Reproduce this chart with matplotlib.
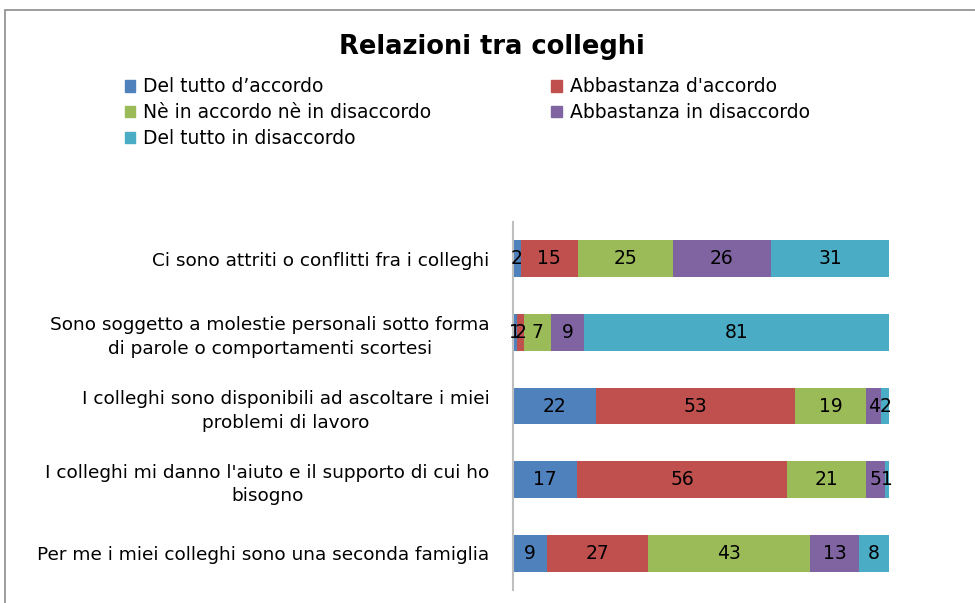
import numpy as np
import matplotlib.pyplot as plt
from matplotlib.patches import Rectangle, Patch

plt.rcParams['font.family'] = ['DejaVu Sans']

# categories, top to bottom as in the chart
categories = [
    "Ci sono attriti o conflitti fra i colleghi",
    "Sono soggetto a molestie personali sotto forma\ndi parole o comportamenti scortesi",
    "I colleghi sono disponibili ad ascoltare i miei\nproblemi di lavoro",
    "I colleghi mi danno l'aiuto e il supporto di cui ho\nbisogno",
    "Per me i miei colleghi sono una seconda famiglia",
]
series_names = [
    "Del tutto d\u2019accordo",
    "Abbastanza d'accordo",
    "N\u00e8 in accordo n\u00e8 in disaccordo",
    "Abbastanza in disaccordo",
    "Del tutto in disaccordo",
]
del_tutto_accordo = [2, 1, 22, 17, 9]
abbastanza_accordo = [15, 2, 53, 56, 27]
ne_ne = [25, 7, 19, 21, 43]
abbastanza_disaccordo = [26, 9, 4, 5, 13]
del_tutto_disaccordo = [31, 81, 2, 1, 8]
colors = ['#4F81BD', '#C0504D', '#9BBB59', '#8064A2', '#4BACC6']

series = np.array([del_tutto_accordo, abbastanza_accordo, ne_ne,
                   abbastanza_disaccordo, del_tutto_disaccordo], dtype=float)
totals = series.sum(axis=0)
pct = series / totals * 100  # 100% stacked

fig = plt.figure(figsize=(9.75, 6.03), dpi=100)
# outer chart border
fig.patches.append(Rectangle((5/975, -0.1), 1.2, 1 - 10/603 + 0.1, transform=fig.transFigure,
                             fill=False, edgecolor='#8C8C8C', linewidth=1.2))

ax = fig.add_axes([513/975, 13/603, 376/975, 368/603])
y = np.arange(len(categories))
left = np.zeros(len(categories))
handles = []
for i in range(len(series)):
    ax.barh(y, pct[i], left=left, height=0.5, color=colors[i])
    for j in range(len(categories)):
        ax.text(left[j] + pct[i][j] / 2, y[j], str(int(series[i][j])),
                ha='center', va='center', fontsize=13.5, color='black')
    left += pct[i]
    handles.append(Patch(color=colors[i]))

ax.set_xlim(0, 100)
ax.set_ylim(len(categories) - 0.5, -0.5)
ax.set_yticks(y)
ax.set_yticklabels(categories, fontsize=13.3, multialignment='center', linespacing=1.4)
ax.tick_params(axis='y', length=0, pad=17)
ax.set_xticks([])
for s in ['top', 'right', 'bottom']:
    ax.spines[s].set_visible(False)
ax.spines['left'].set_color('#BFBFBF')
ax.spines['left'].set_linewidth(1.5)

fig.text(492/975, 1 - 47/603, "Relazioni tra colleghi", ha='center', va='center',
         fontsize=18.5, fontweight='bold')

order = [0, 2, 4, 1, 3]
fig.legend([handles[k] for k in order], [series_names[k] for k in order],
           ncol=2, frameon=False, loc='upper left', bbox_to_anchor=(117/975, 1 - 70/603),
           fontsize=13.5, handlelength=0.55, handleheight=0.55, handletextpad=0.45,
           labelspacing=0.36, columnspacing=6.4, borderaxespad=0)

fig.savefig('out.png', dpi=100)
